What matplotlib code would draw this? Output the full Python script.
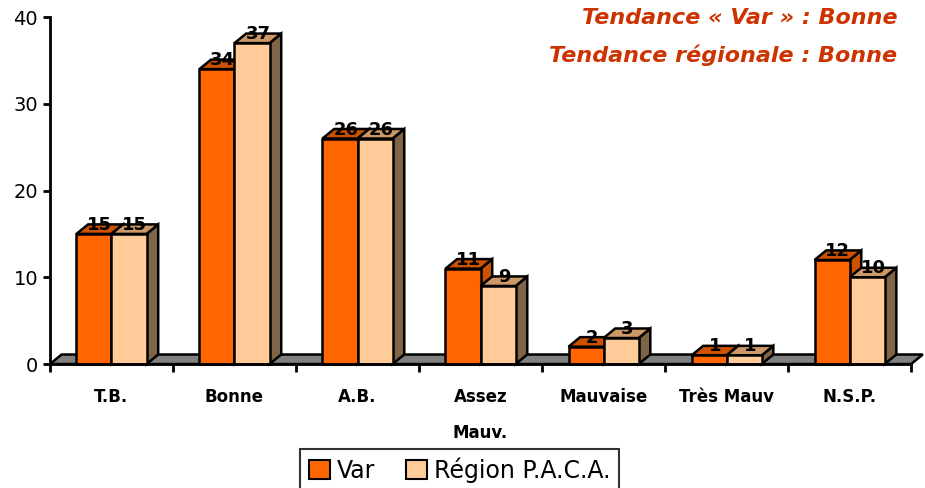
import matplotlib.pyplot as plt
from matplotlib.patches import Polygon, Patch

categories = ['T.B.', 'Bonne', 'A.B.', 'Assez\n\nMauv.', 'Mauvaise', 'Très Mauv', 'N.S.P.']
var_values = [15, 34, 26, 11, 2, 1, 12]
paca_values = [15, 37, 26, 9, 3, 1, 10]

var_front = '#FF6600'
var_top = '#CC5200'
paca_front = '#FFCC99'
paca_top = '#CC9966'
paca_side = '#7F6447'

fig = plt.figure(figsize=(9.25, 4.88), dpi=100)
ax = fig.add_axes([0.054, 0.254, 0.931, 0.711])
ax.set_xlim(0, 7)
ax.set_ylim(0, 40)

dx = 0.095   # depth offset in x (category units)
dy = 1.1     # depth offset in y (value units)
bw = 0.285   # bar width
lw = 1.8

# floor
floor = Polygon([(0, 0), (dx, dy), (7 + dx, dy), (7, 0)], closed=True,
                facecolor='#808080', edgecolor='black', lw=lw, clip_on=False, zorder=1)
ax.add_patch(floor)


def bar3d(x0, h, front, top, side):
    x1 = x0 + bw
    ax.add_patch(Polygon([(x1, 0), (x1 + dx, dy), (x1 + dx, h + dy), (x1, h)],
                         facecolor=side, edgecolor='black', lw=lw, clip_on=False, zorder=2))
    ax.add_patch(Polygon([(x0, h), (x0 + dx, h + dy), (x1 + dx, h + dy), (x1, h)],
                         facecolor=top, edgecolor='black', lw=lw, clip_on=False, zorder=2))
    ax.add_patch(Polygon([(x0, 0), (x0, h), (x1, h), (x1, 0)],
                         facecolor=front, edgecolor='black', lw=lw, clip_on=False, zorder=2))
    ax.text(x0 + bw / 2 + dx / 2, h, str(h), ha='center', va='bottom',
            fontsize=13, fontweight='bold', zorder=5)


for i in range(len(categories)):
    c = i + 0.5
    bar3d(c - bw, var_values[i], var_front, var_top, var_top)
    bar3d(c, paca_values[i], paca_front, paca_top, paca_side)

for s in ['top', 'right']:
    ax.spines[s].set_visible(False)
ax.spines['left'].set_linewidth(2)
ax.spines['bottom'].set_linewidth(2)
ax.spines['bottom'].set_zorder(3)

ax.set_yticks([0, 10, 20, 30, 40])
ax.tick_params(axis='y', labelsize=14, width=2, length=5)
ax.set_xticks(range(8))
ax.set_xticklabels([])
ax.tick_params(axis='x', width=2, length=6)
for i, cat in enumerate(categories):
    ax.text(i + 0.5, -2.8, cat, ha='center', va='top', fontsize=12,
            fontweight='bold', linespacing=1.0)

fig.text(0.97, 0.963, 'Tendance « Var » : Bonne', ha='right', va='center',
         fontsize=16, fontweight='bold', style='italic', color='#CC3300')
fig.text(0.97, 0.887, 'Tendance régionale : Bonne', ha='right', va='center',
         fontsize=16, fontweight='bold', style='italic', color='#CC3300')

handles = [Patch(facecolor=var_front, edgecolor='black', lw=1.5, label='Var'),
           Patch(facecolor=paca_front, edgecolor='black', lw=1.5, label='Région P.A.C.A.')]
leg = fig.legend(handles=handles, loc='lower center', bbox_to_anchor=(0.497, -0.03),
                 ncol=2, fontsize=17, frameon=True, fancybox=False,
                 handlelength=0.9, handleheight=0.9, handletextpad=0.3,
                 columnspacing=1.3, borderpad=0.35)
leg.get_frame().set_edgecolor('black')
leg.get_frame().set_linewidth(1.5)

fig.savefig('out.png', dpi=100)
